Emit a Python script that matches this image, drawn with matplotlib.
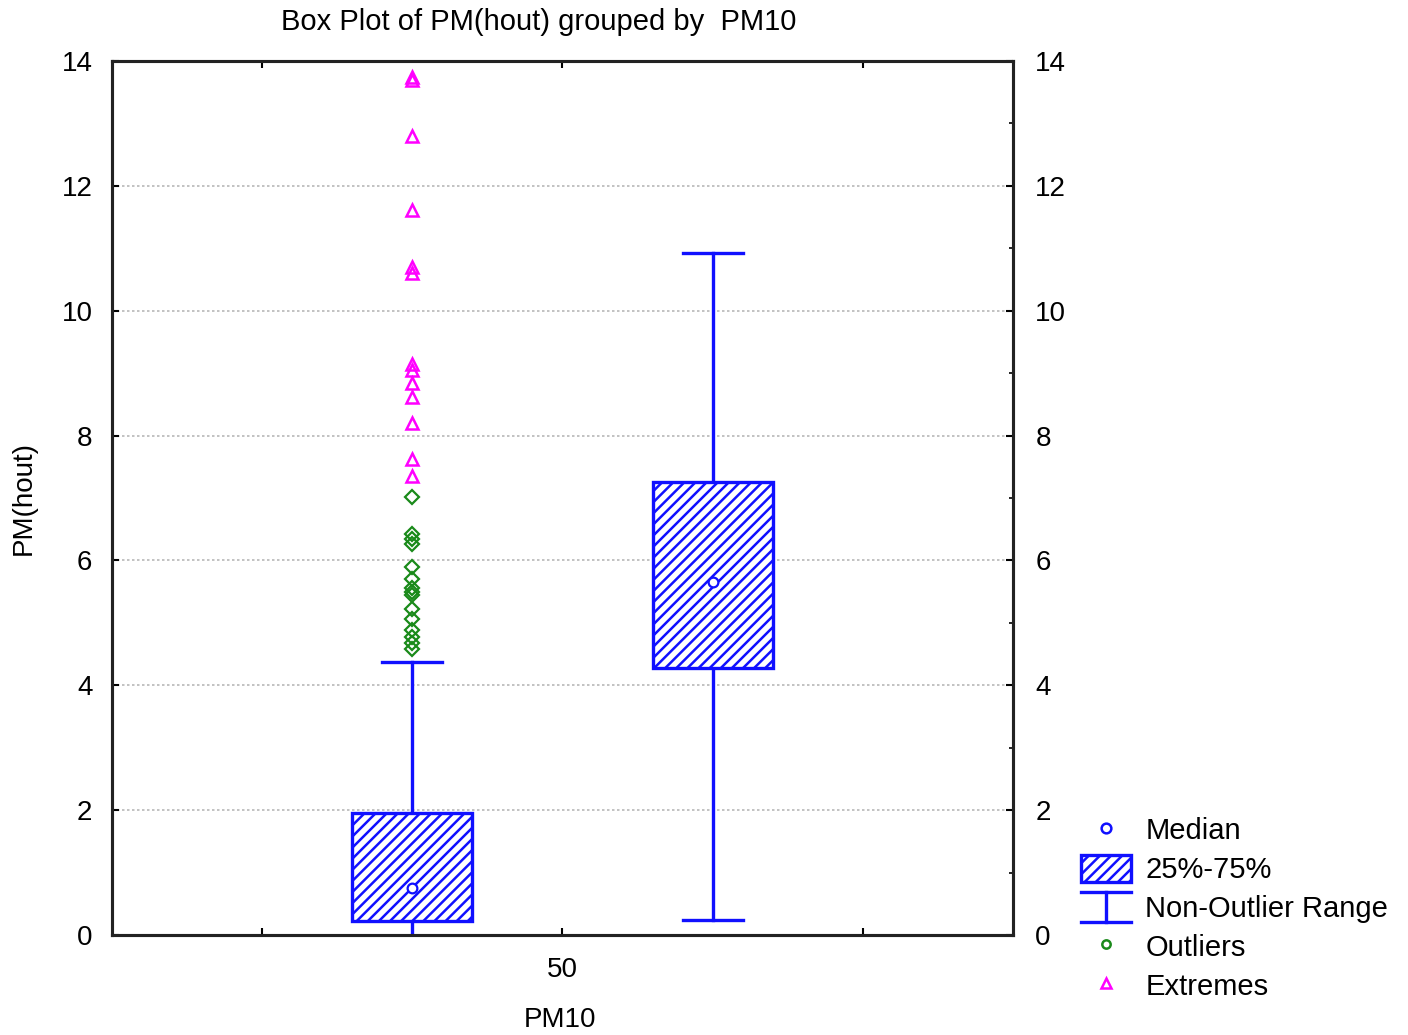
import matplotlib
matplotlib.use("Agg")
import matplotlib.pyplot as plt
from matplotlib.patches import Rectangle
from matplotlib.lines import Line2D
from matplotlib.legend_handler import HandlerBase

plt.rcParams["font.family"] = ["Liberation Sans", "DejaVu Sans"]
plt.rcParams["hatch.linewidth"] = 1.8

# box positions on the x scale and their statistics
positions = [2, 4]
q1 = [0.22, 4.28]
q3 = [1.95, 7.25]
medians = [0.75, 5.65]
whisk_lo = [0.0, 0.24]
whisk_hi = [4.37, 10.92]

# outliers / extremes of the first group
outliers = [7.02, 6.42, 6.35, 6.27, 5.90, 5.70, 5.56, 5.50, 5.45,
            5.22, 5.07, 4.88, 4.78, 4.68, 4.58]
extremes = [13.75, 13.70, 12.80, 11.62, 10.70, 10.60, 9.15, 9.05,
            8.84, 8.62, 8.20, 7.62, 7.35]

xticks = [1, 3, 5]
xticklabels = ["", "50", ""]
yticks = [0, 2, 4, 6, 8, 10, 12, 14]

BLUE = "#1010ff"
GREEN = "#1a8a1a"
MAGENTA = "#ff00ff"
FS = 20

fig = plt.figure(figsize=(14.08, 10.35), dpi=100)
ax = fig.add_axes([0.0795, 0.0966, 0.64, 0.8444])

ax.set_xlim(0, 6)
ax.set_ylim(0, 14)

box_w = 0.8
for p, lo, hi, a, b, m in zip(positions, whisk_lo, whisk_hi, q1, q3, medians):
    ax.add_patch(Rectangle((p - box_w / 2, a), box_w, b - a, facecolor="white",
                           edgecolor=BLUE, hatch="///", linewidth=2.4, zorder=3))
    ax.plot([p, p], [b, hi], color=BLUE, lw=2.4, zorder=2)
    ax.plot([p, p], [lo, a], color=BLUE, lw=2.4, zorder=2)
    if lo > 0:
        ax.plot([p - 0.2, p + 0.2], [lo, lo], color=BLUE, lw=2.4, zorder=2)
    ax.plot([p - 0.2, p + 0.2], [hi, hi], color=BLUE, lw=2.4, zorder=2)
    ax.plot([p], [m], marker="o", ms=7, mfc="white", mec=BLUE, mew=1.6, zorder=4)

ax.plot([positions[0]] * len(outliers), outliers, ls="none", marker="D", ms=7,
        mfc="none", mec=GREEN, mew=1.6, zorder=4)
ax.plot([positions[0]] * len(extremes), extremes, ls="none", marker="^", ms=8,
        mfc="none", mec=MAGENTA, mew=1.8, zorder=4)

for y in yticks[1:-1]:
    ax.axhline(y, color="#b8b8b8", lw=1.2, ls=(0, (1.5, 1.5)), zorder=1)

ax.set_xticks(xticks)
ax.set_xticklabels(xticklabels, fontsize=FS)
ax.set_yticks(yticks)
ax.set_yticklabels([str(v) for v in yticks], fontsize=FS)
ax.tick_params(direction="in", length=5, width=1.5, top=True, pad=14)
ax.tick_params(axis="x", pad=16)
for s in ax.spines.values():
    s.set_linewidth(2.2)
    s.set_color("#222222")
    s.set_zorder(5)

ax2 = ax.twinx()
ax2.set_ylim(0, 14)
ax2.set_yticks(yticks)
ax2.set_yticklabels([str(v) for v in yticks], fontsize=FS)
ax2.set_yticks([1, 3, 5, 7, 9, 11, 13], minor=True)
ax2.tick_params(direction="in", length=5, width=1.5, pad=16)
ax2.tick_params(which="minor", direction="in", length=3, width=1.2)
for s in ax2.spines.values():
    s.set_linewidth(2.2)
    s.set_color("#222222")

ax.set_ylabel("PM(hout)", fontsize=FS, labelpad=18)
fig.text(560 / 1408, 1 - 1020 / 1035, "PM10", ha="center", va="center", fontsize=FS)
fig.text(539 / 1408, 1 - 22 / 1035, "Box Plot of PM(hout) grouped by  PM10",
         ha="center", va="center", fontsize=21)


class RangeHandler(HandlerBase):
    def create_artists(self, legend, orig, xd, yd, w, h, fontsize, trans):
        x0, y0 = -xd, -yd
        top, bot = y0 + h * 1.05, y0 - h * 0.05
        arts = [Line2D([x0, x0 + w], [top, top], color=BLUE, lw=2.4),
                Line2D([x0, x0 + w], [bot, bot], color=BLUE, lw=2.4),
                Line2D([x0 + w / 2, x0 + w / 2], [bot, top], color=BLUE, lw=2.4)]
        for a in arts:
            a.set_transform(trans)
        return arts


range_key = object()
handles = [
    Line2D([], [], ls="none", marker="o", ms=7, mfc="white", mec=BLUE, mew=1.8),
    Rectangle((0, 0), 1, 1, facecolor="white", edgecolor=BLUE, hatch="///", lw=2.4),
    range_key,
    Line2D([], [], ls="none", marker="o", ms=6, mfc="white", mec=GREEN, mew=1.8),
    Line2D([], [], ls="none", marker="^", ms=7, mfc="white", mec=MAGENTA, mew=1.8),
]
labels = ["Median", "25%-75%", "Non-Outlier Range", "Outliers", "Extremes"]
fig.legend(handles, labels, loc="upper left", bbox_to_anchor=(1081 / 1408, 1 - 816 / 1035),
           frameon=False, fontsize=21, handlelength=1.7, handleheight=1.05,
           handletextpad=0.5, labelspacing=0.32, borderpad=0, borderaxespad=0,
           handler_map={range_key: RangeHandler()})

fig.savefig("out.png", dpi=100)
